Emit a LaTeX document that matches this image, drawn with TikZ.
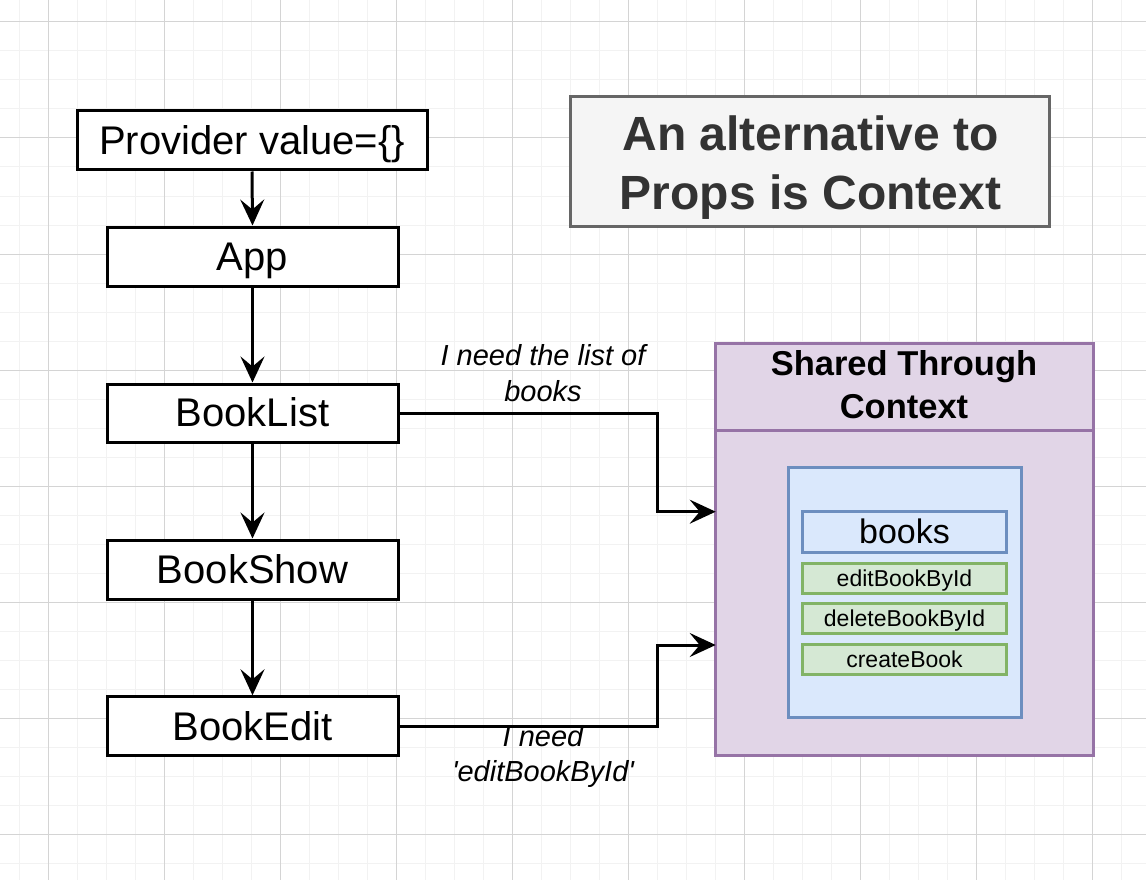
\documentclass[tikz,border=0pt]{standalone}
\usepackage{fontspec}
\setmainfont{Liberation Sans}
\usetikzlibrary{arrows.meta}
\definecolor{gridmajor}{HTML}{D4D4D4}
\definecolor{gridminor}{HTML}{F2F2F2}
\definecolor{titlefill}{HTML}{F5F5F5}
\definecolor{titledraw}{HTML}{666666}
\definecolor{titletext}{HTML}{333333}
\definecolor{purplefill}{HTML}{E1D5E7}
\definecolor{purpledraw}{HTML}{9673A6}
\definecolor{bluefill}{HTML}{DAE8FC}
\definecolor{bluedraw}{HTML}{6C8EBF}
\definecolor{greenfill}{HTML}{D5E8D4}
\definecolor{greendraw}{HTML}{82B366}
\begin{document}
\begin{tikzpicture}[x=1pt,y=-1pt,
  compbox/.style={inner sep=0pt, text height=30pt, text depth=2.3pt,
    draw=black, line width=3pt, fill=white,
    font=\fontsize{40}{48}\selectfont},
  arr/.style={draw=black, line width=3pt,
    -{Stealth[length=26pt,width=24pt,inset=10pt]}},
  titlebox/.style={draw=titledraw, fill=titlefill, line width=3pt, inner sep=0pt},
  titletxt/.style={anchor=base, inner sep=0pt, text=titletext,
    font=\fontsize{48}{58}\selectfont\bfseries},
  panelbox/.style={draw=purpledraw, fill=purplefill, line width=3pt, inner sep=0pt},
  paneltxt/.style={anchor=base, inner sep=0pt,
    font=\fontsize{34.5}{43}\selectfont\bfseries},
  bluebox/.style={inner sep=0pt, draw=bluedraw, fill=bluefill, line width=3pt},
  bookstxt/.style={text height=25.5pt, text depth=1.9pt,
    font=\fontsize{34}{41}\selectfont},
  greenbox/.style={inner sep=0pt, text height=17.25pt, text depth=1.3pt,
    draw=greendraw, fill=greenfill, line width=3pt,
    font=\fontsize{23}{28}\selectfont},
  lbl/.style={anchor=base, inner sep=0pt, font=\fontsize{29}{35}\selectfont\itshape},
]
% background and bounds
\fill[white] (0,0) rectangle (1146,880);
\useasboundingbox (0,0) rectangle (1146,880);
% grid
\foreach \k in {0,...,39} {
  \draw[gridminor, line width=1pt] (19.7+29*\k,0) -- (19.7+29*\k,880);
}
\foreach \k in {0,...,31} {
  \draw[gridminor, line width=1pt] (0,-7+29*\k) -- (1146,-7+29*\k);
}
\foreach \k in {0,...,9} {
  \draw[gridmajor, line width=1pt] (48.7+116*\k,0) -- (48.7+116*\k,880);
}
\foreach \k in {0,...,7} {
  \draw[gridmajor, line width=1pt] (0,22+116*\k) -- (1146,22+116*\k);
}

% component tree
\node[compbox, minimum width=350pt, minimum height=59pt] (provider) at (252,140.5) {Provider value=\{\}};
\node[compbox, minimum width=291pt, minimum height=59pt] (app) at (252.5,256.5) {App};
\node[compbox, minimum width=291pt, minimum height=58pt] (booklist) at (252.5,413) {BookList};
\node[compbox, minimum width=291pt, minimum height=59pt] (bookshow) at (252.5,569.5) {BookShow};
\node[compbox, minimum width=291pt, minimum height=59pt] (bookedit) at (252.5,726.3) {BookEdit};

\draw[arr] (provider.south) -- (app.north);
\draw[arr] (app.south) -- (booklist.north);
\draw[arr] (booklist.south) -- (bookshow.north);
\draw[arr] (bookshow.south) -- (bookedit.north);

% title
\node[titlebox, minimum width=479pt, minimum height=130pt] (title) at (810.4,161.7) {};
\node[titletxt] (title1) at (810.4,150.7) {An alternative to};
\node[titletxt] (title2) at (810.4,209) {Props is Context};

% context panel
\node[panelbox, minimum width=378pt, minimum height=412pt] (panel) at (904.7,549.3) {};
\coordinate (hdrl) at (715.7,430);
\coordinate (hdrr) at (1093.7,430);
\draw[purpledraw, line width=3pt] (hdrl) -- (hdrr);
\node[paneltxt] (panel1) at (904,375) {Shared Through};
\node[paneltxt] (panel2) at (904,418) {Context};

\node[bluebox, minimum width=233pt, minimum height=250pt] (store) at (904.6,592.5) {};
\node[bluebox, bookstxt, minimum width=204pt, minimum height=41pt] (books) at (904.5,531.7) {books};
\node[greenbox, minimum width=204pt, minimum height=30pt] (edit) at (904.5,578.2) {editBookById};
\node[greenbox, minimum width=204pt, minimum height=30pt] (delete) at (904.5,618.9) {deleteBookById};
\node[greenbox, minimum width=204pt, minimum height=30pt] (create) at (904.5,659.5) {createBook};

% connectors to the context
\coordinate (bendx) at (657.7,0);
\coordinate (in1) at (715.7,511.7);
\coordinate (in2) at (715.7,645);
\draw[arr] (booklist.east) -- (booklist.east -| bendx) |- (in1);
\draw[arr] (bookedit.east) -- (bookedit.east -| bendx) |- (in2);

\node[lbl] (l1a) at (543,365) {I need the list of};
\node[lbl] (l1b) at (543,401) {books};
\node[lbl] (l2a) at (543,746.7) {I need};
\node[lbl] (l2b) at (543,781.7) {\textquotesingle editBookById\textquotesingle};
\end{tikzpicture}
\end{document}
